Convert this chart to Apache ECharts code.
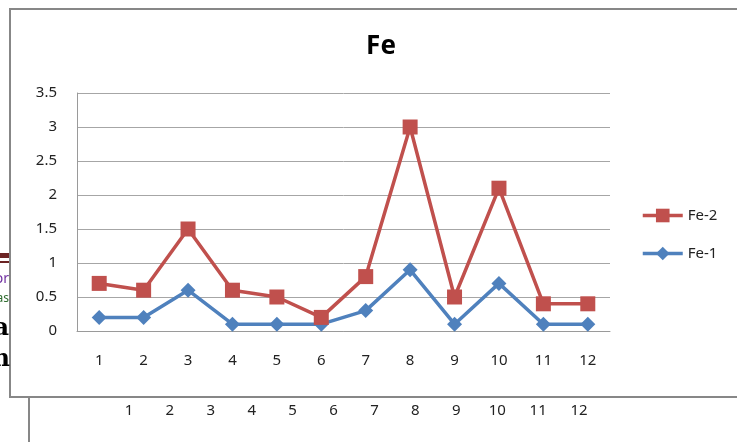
<!DOCTYPE html>
<html>
<head>
<meta charset="utf-8">
<script src="https://cdn.jsdelivr.net/npm/echarts@6/dist/echarts.min.js"></script>
<style>html,body{margin:0;padding:0;background:#fff;}#c{width:737px;height:442px;}</style>
</head>
<body>
<div id="c"></div>
<script>
var categories = ['1','2','3','4','5','6','7','8','9','10','11','12'];
var fe2 = [0.7, 0.6, 1.5, 0.6, 0.5, 0.2, 0.8, 3.0, 0.5, 2.1, 0.4, 0.4];
var fe1 = [0.2, 0.2, 0.6, 0.1, 0.1, 0.1, 0.3, 0.9, 0.1, 0.7, 0.1, 0.1];
var yTicks = { min: 0, max: 3.5, interval: 0.5 };

var chart = echarts.init(document.getElementById('c'), null, {renderer: 'canvas'});
var lblFont = 'Noto Sans';
chart.setOption({
  animation: false,
  backgroundColor: '#fff',
  title: {
    text: 'Fe', left: 376, top: 29, textAlign: 'center',
    textStyle: { fontFamily: lblFont, fontWeight: 'bold', fontSize: 26, color: '#000' }
  },
  legend: {
    data: ['Fe-2', 'Fe-1'], orient: 'vertical', left: 636, top: 203,
    itemWidth: 40, itemHeight: 17, itemGap: 23,
    lineStyle: { width: 3.5 },
    textStyle: { fontFamily: lblFont, fontSize: 15, color: '#222' }
  },
  grid: [
    { left: 77, right: 127, top: 93, bottom: 111 },
    { left: 108.5, width: 491, top: 396, height: 1 }
  ],
  xAxis: [
    { type: 'category', data: categories, boundaryGap: true, gridIndex: 0,
      axisLine: { lineStyle: { color: '#9a9a9a', width: 1 } }, axisTick: { show: false },
      axisLabel: { fontFamily: lblFont, fontSize: 15, color: '#222', margin: 22 } },
    { type: 'category', data: categories, boundaryGap: true, gridIndex: 1,
      axisLine: { show: false }, axisTick: { show: false },
      axisLabel: { fontFamily: lblFont, fontSize: 15, color: '#222', margin: 6 } }
  ],
  yAxis: [
    { type: 'value', gridIndex: 0, min: yTicks.min, max: yTicks.max, interval: yTicks.interval,
      axisLine: { show: true, lineStyle: { color: '#9a9a9a', width: 1 } }, axisTick: { show: false },
      splitLine: { lineStyle: { color: '#a6a6a6', width: 1 } },
      axisLabel: { fontFamily: lblFont, fontSize: 15, color: '#222', margin: 20 } },
    { type: 'value', gridIndex: 1, show: false }
  ],
  series: [
    { name: 'Fe-1', type: 'line', data: fe1, xAxisIndex: 0, yAxisIndex: 0,
      symbol: 'diamond', symbolSize: 15, color: '#4F81BD',
      lineStyle: { width: 3.5, color: '#4F81BD' }, itemStyle: { color: '#4F81BD' } },
    { name: 'Fe-2', type: 'line', data: fe2, xAxisIndex: 0, yAxisIndex: 0,
      symbol: 'rect', symbolSize: 15, color: '#C0504D',
      lineStyle: { width: 3.5, color: '#C0504D' }, itemStyle: { color: '#C0504D' } }
  ],
  graphic: [
    { type: 'rect', shape: { x: 10, y: 9, width: 740, height: 388 },
      style: { fill: 'none', stroke: '#878787', lineWidth: 2 } },
    { type: 'line', shape: { x1: 29, y1: 398, x2: 29, y2: 442 },
      style: { stroke: '#878787', lineWidth: 2 } },
    { type: 'rect', shape: { x: 0, y: 253, width: 9, height: 5 }, style: { fill: '#6b2323' } },
    { type: 'rect', shape: { x: 0, y: 261, width: 9, height: 2 }, style: { fill: '#6b2323' } },
    { type: 'text', x: 9, y: 279, style: { text: 'or', fill: '#7030A0', font: '14px "Noto Sans"', textAlign: 'right', textVerticalAlign: 'middle' } },
    { type: 'text', x: 9, y: 299, style: { text: 'as', fill: '#2e6b2e', font: '12px "Noto Sans"', textAlign: 'right', textVerticalAlign: 'middle' } },
    { type: 'text', x: 9, y: 329, style: { text: 'a', fill: '#000', font: 'bold 24px "DejaVu Serif"', textAlign: 'right', textVerticalAlign: 'middle' } },
    { type: 'text', x: 10, y: 360, style: { text: 'n', fill: '#000', font: 'bold 24px "DejaVu Serif"', textAlign: 'right', textVerticalAlign: 'middle' } }
  ]
});
</script>
</body>
</html>
